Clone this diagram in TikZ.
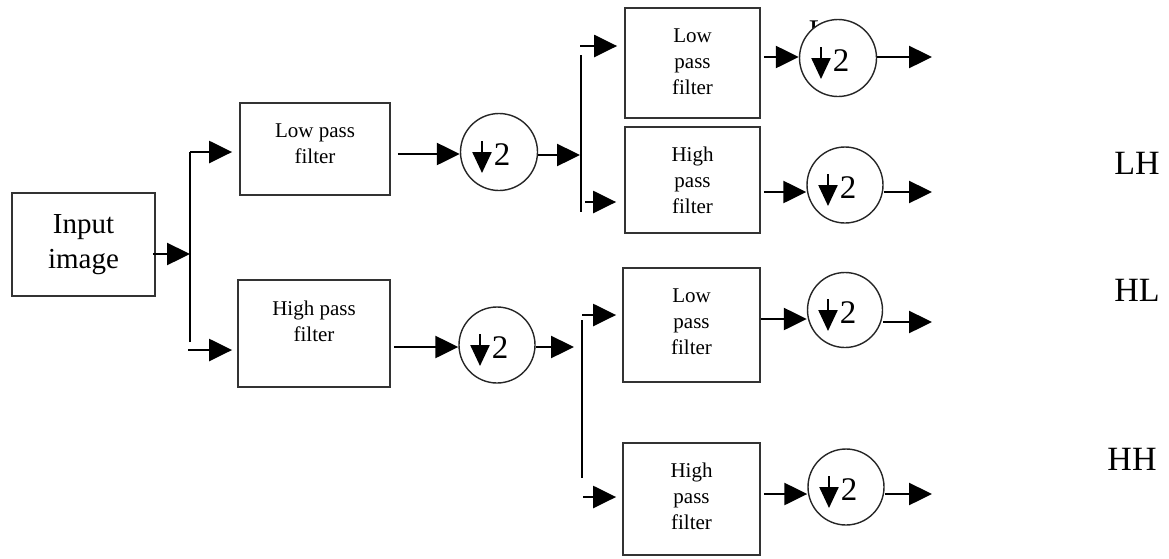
\documentclass[tikz,border=0pt]{standalone}
\usepackage{fontspec}
\setmainfont{Liberation Serif}
\usetikzlibrary{arrows.meta,calc}
\newcommand\dtwo[1]{%
  \draw[dnarr] ($(#1)+(-17,-11)$) -- ($(#1)+(-17,21)$);
  \node[twotxt] (#1-two) at ($(#1)+(3,3)$) {2};}
\begin{document}
\begin{tikzpicture}[x=1pt,y=-1pt,
  box/.style={draw=black!80, line width=1.8pt, inner sep=0pt},
  btxt/.style={font=\fontsize{21}{26}\selectfont, align=center, inner sep=0pt},
  arr/.style={line width=2.4pt, -{Triangle[length=23pt,width=22pt]}},
  ln/.style={line width=2.4pt},
  dcirc/.style={circle, draw=black!85, line width=1.4pt, minimum size=#1, inner sep=0pt, fill=white},
  dnarr/.style={line width=2.4pt, -{Triangle[length=21pt,width=19pt]}},
  twotxt/.style={font=\fontsize{33}{33}\selectfont, inner sep=0pt},
  lbl/.style={font=\fontsize{34}{34}\selectfont, inner sep=0pt}]
\useasboundingbox (0,0) rectangle (1169,558);

% boxes
\node[box, minimum width=143pt, minimum height=103pt, font=\fontsize{29}{35}\selectfont, align=center] (in) at (83.5,244.5) {Input\\image};
\node[box, minimum width=150pt, minimum height=92pt] (lp1) at (315,149) {};
\node[btxt] (lp1t) at (315,144) {Low pass\\filter};
\node[box, minimum width=152pt, minimum height=107pt] (hp1) at (314,333.5) {};
\node[btxt] (hp1t) at (314,321) {High pass\\filter};
\node[box, minimum width=135pt, minimum height=110pt] (tl) at (692.5,63) {};
\node[btxt] (tlt) at (692.5,62) {Low\\pass\\filter};
\node[box, minimum width=135pt, minimum height=106pt] (th) at (692.5,180) {};
\node[btxt] (tht) at (692.5,180) {High\\pass\\filter};
\node[box, minimum width=137pt, minimum height=114pt] (bl) at (691.5,325) {};
\node[btxt] (blt) at (691.5,322) {Low\\pass\\filter};
\node[box, minimum width=137pt, minimum height=112pt] (bh) at (691.5,499) {};
\node[btxt] (bht) at (691.5,496) {High\\pass\\filter};

% partial hidden label
\node[font=\fontsize{30}{30}\selectfont, inner sep=0pt] (ll) at (818,31) {L};

% circles
\node[dcirc=77pt] (c1) at (499,152) {};
\node[dcirc=76pt] (c2) at (497,345) {};
\node[dcirc=77pt] (ctl) at (838,58) {};
\node[dcirc=76pt] (cth) at (845,185) {};
\node[dcirc=75pt] (cbl) at (845,310) {};
\node[dcirc=76pt] (cbh) at (846,487) {};
\dtwo{c1}\dtwo{c2}\dtwo{ctl}\dtwo{cth}\dtwo{cbl}\dtwo{cbh}

% labels
\node[lbl] (lh) at (1137,163) {LH};
\node[lbl] (hl) at (1137,290) {HL};
\node[lbl] (hh) at (1132,459) {HH};

% coordinates
\coordinate (s1m) at (190,254);
\coordinate (s1t) at (190,152);
\coordinate (s1b) at (190,342);
\coordinate (s1c) at (188,350);
\coordinate (s2m) at (580,155);
\coordinate (s2t) at (581,55);
\coordinate (s2b) at (581,212);
\coordinate (s2u) at (580,46);
\coordinate (s2l) at (585,202);
\coordinate (s3m) at (574,347);
\coordinate (s3t) at (582,320);
\coordinate (s3b) at (582,478);
\coordinate (s3u) at (582,315);
\coordinate (s3l) at (583,497);
\coordinate (ytl) at (0,57);
\coordinate (yth) at (0,192);
\coordinate (ybl) at (0,319);
\coordinate (yblo) at (0,322);
\coordinate (ybh) at (0,494);
\coordinate (otl) at (932,57);
\coordinate (oth) at (932,192);
\coordinate (obl) at (932,322);
\coordinate (obh) at (932,494);
\coordinate (y1) at (0,154);
\coordinate (y2) at (0,347);

% first stage
\draw[arr, shorten <=-3pt] (in.east |- s1m) -- (s1m);
\draw[ln] (s1b) -- (s1t);
\draw[arr, shorten >=7pt] (s1t) -- (lp1.west |- s1t);
\draw[arr, shorten >=5pt] (s1c) -- (hp1.west |- s1c);

% second stage
\draw[arr, shorten <=7pt] (lp1.east |- y1) -- (c1.west |- y1);
\draw[arr] (c1.east |- s2m) -- (s2m);
\draw[arr, shorten <=3pt] (hp1.east |- y2) -- (c2.west |- y2);
\draw[arr] (c2.east |- s3m) -- (s3m);

% third stage (top)
\draw[ln] (s2t) -- (s2b);
\draw[arr, shorten >=7pt] (s2u) -- (tl.west |- s2u);
\draw[arr, shorten >=8pt] (s2l) -- (th.west |- s2l);
\draw[arr, shorten <=3pt] (tl.east |- ytl) -- (ctl.west |- ytl);
\draw[arr] (ctl.east |- ytl) -- (otl);
\draw[arr, shorten <=3pt] (th.east |- yth) -- (cth.west |- yth);
\draw[arr] (cth.east |- yth) -- (oth);

% third stage (bottom)
\draw[ln] (s3t) -- (s3b);
\draw[arr, shorten >=6pt] (s3u) -- (bl.west |- s3u);
\draw[arr, shorten >=6pt] (s3l) -- (bh.west |- s3l);
\draw[arr] (bl.east |- ybl) -- (cbl.west |- ybl);
\draw[arr] (cbl.east |- yblo) -- (obl);
\draw[arr, shorten <=3pt] (bh.east |- ybh) -- (cbh.west |- ybh);
\draw[arr] (cbh.east |- ybh) -- (obh);
\end{tikzpicture}
\end{document}
